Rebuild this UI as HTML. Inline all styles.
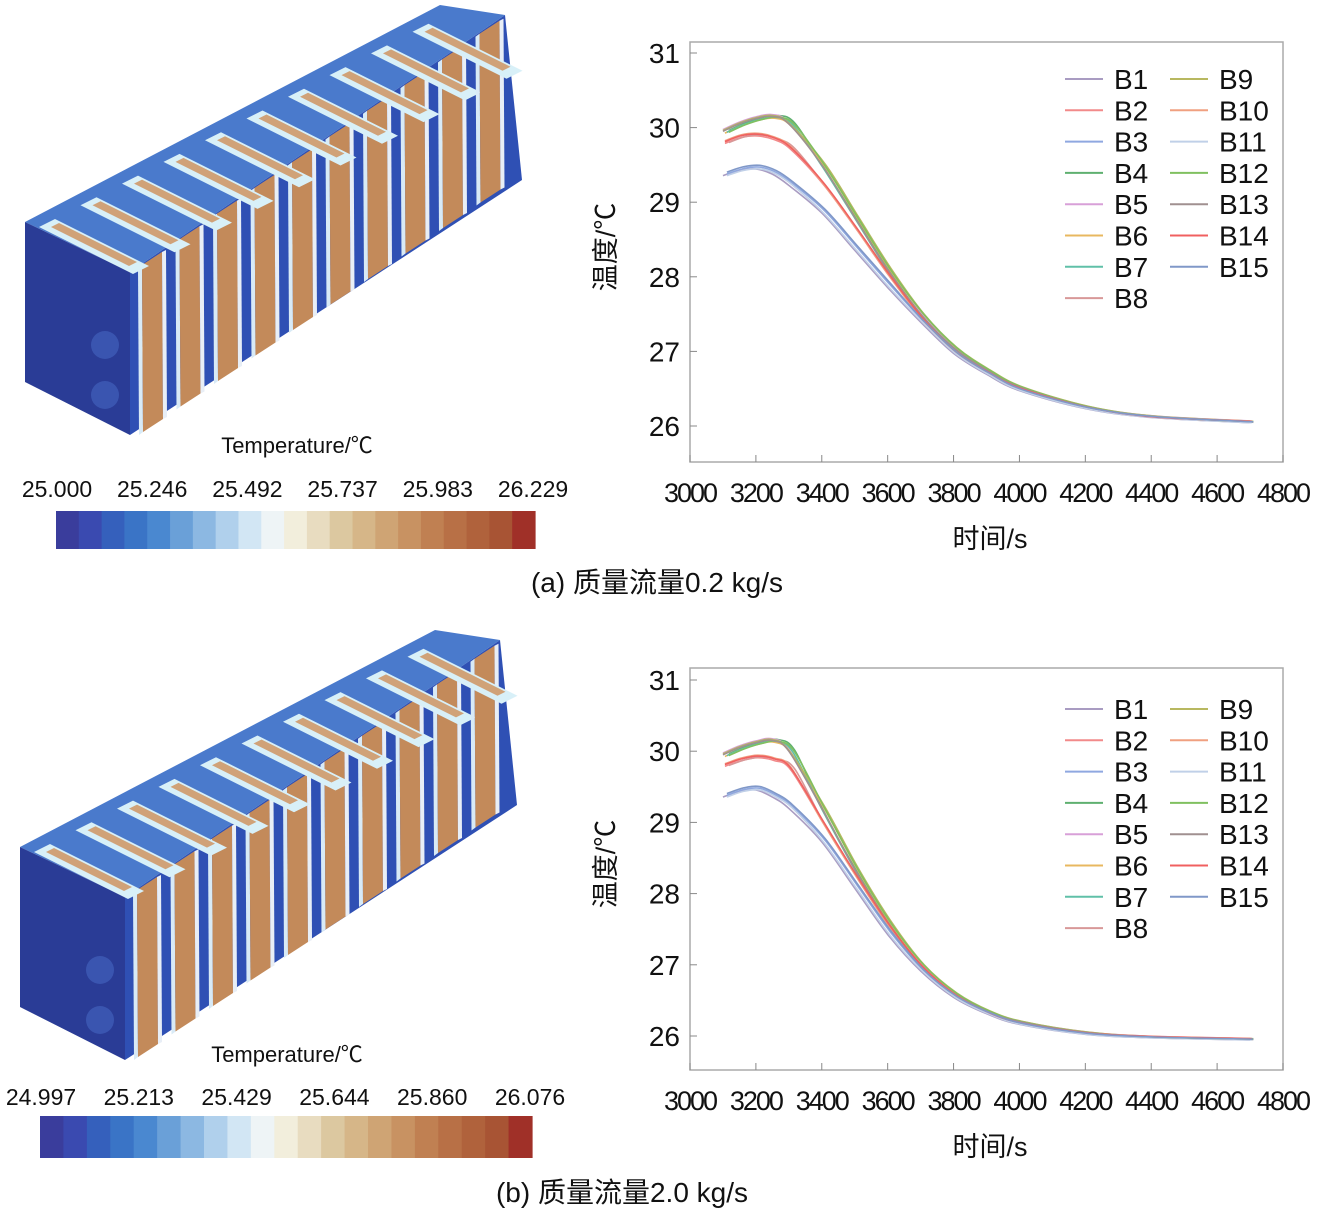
<!DOCTYPE html>
<html><head><meta charset="utf-8">
<style>
body{margin:0;background:#fff;width:1317px;height:1215px;overflow:hidden;font-family:"Liberation Sans","Noto Sans CJK SC",sans-serif;}
svg{position:absolute;left:0;top:0}
</style></head>
<body>
<svg id="s" width="1317" height="1215" viewBox="0 0 1317 1215" xmlns="http://www.w3.org/2000/svg"></svg>
<script>
const xs=[3100,3150,3200,3250,3300,3400,3500,3600,3700,3800,3900,4000,4200,4400,4700];
const topHigh=[29.95,30.05,30.12,30.15,30.05,29.5,28.8,28.1,27.5,27.05,26.75,26.52,26.26,26.13,26.06];
const topMid=[29.8,29.88,29.9,29.85,29.72,29.25,28.65,28.02,27.45,27.0,26.72,26.5,26.25,26.12,26.06];
const topLow=[29.38,29.45,29.47,29.4,29.25,28.88,28.38,27.88,27.4,26.98,26.7,26.48,26.24,26.12,26.05];
const botHigh=[29.95,30.05,30.12,30.15,30.0,29.2,28.35,27.6,27.0,26.6,26.35,26.2,26.05,25.99,25.96];
const botMid=[29.8,29.88,29.92,29.88,29.75,29.0,28.25,27.55,26.98,26.58,26.33,26.18,26.04,25.99,25.96];
const botLow=[29.38,29.46,29.48,29.38,29.22,28.75,28.1,27.45,26.92,26.55,26.32,26.17,26.03,25.98,25.95];
const names=["B1","B2","B3","B4","B5","B6","B7","B8","B9","B10","B11","B12","B13","B14","B15"];
const colors=["#a99cc2","#f28a8a","#8fa8e0","#5fb070","#d8a0d8","#e8b860","#60c0a8","#d89898","#b8b860","#f0a080","#c0d0e8","#80c060","#a09090","#f06060","#8098c8"];
const kinds=["L","M","L","H","H","H","H","M","H","M","L","H","H","M","L"];
const yTicks=[26,27,28,29,30,31];
const xTicks=[3000,3200,3400,3600,3800,4000,4200,4400,4600,4800];
const cbTop=["25.000","25.246","25.492","25.737","25.983","26.229"];
const cbBot=["24.997","25.213","25.429","25.644","25.860","26.076"];

const NS="http://www.w3.org/2000/svg";
const S=document.getElementById('s');
function el(t,a,p){const e=document.createElementNS(NS,t);for(const k in a)e.setAttribute(k,a[k]);(p||S).appendChild(e);return e;}
function txt(x,y,s,size,anchor,p){const e=el('text',{x:x,y:y,'font-size':size,'text-anchor':anchor||'middle','fill':'#111','font-family':'"Liberation Sans","Noto Sans CJK SC",sans-serif'},p);e.textContent=s;return e;}
function path(pts){let d="M"+pts[0][0]+","+pts[0][1];for(let i=0;i<pts.length-1;i++){const p0=pts[Math.max(0,i-1)],p1=pts[i],p2=pts[i+1],p3=pts[Math.min(pts.length-1,i+2)];d+=" C"+(p1[0]+(p2[0]-p0[0])/6)+","+(p1[1]+(p2[1]-p0[1])/6)+" "+(p2[0]-(p3[0]-p1[0])/6)+","+(p2[1]-(p3[1]-p1[1])/6)+" "+p2[0]+","+p2[1];}return d;}

function chart(c){
  const g=el('g',{});
  
  
  const X=v=>690+(v-3000)*593/1800, Y=v=>c.y26-(v-26)*c.unit;
  const frame=el('rect',{x:690,y:c.top,width:593,height:c.bot-c.top,fill:'none',stroke:'#aaa','stroke-width':1.5},g);
  
  yTicks.forEach(t=>{const e=txt(680,Y(t)+10,String(t),28,'end',g);el('line',{x1:690,x2:697,y1:Y(t),y2:Y(t),stroke:'#888'},g);});
  xTicks.forEach(t=>{const e=txt(X(t),c.bot+40,String(t),27,'middle',g);e.setAttribute('letter-spacing','-2');el('line',{x1:X(t),x2:X(t),y1:c.bot,y2:c.bot-7,stroke:'#888'},g);});
  const data={H:c.H,M:c.M,L:c.L};
  names.forEach((n,i)=>{const arr=data[kinds[i]];const off=(i%5-2)*0.012;
    const pts=xs.map((x,j)=>[X(x+(j<5?(i%4)*6:(i%3)*5)),Y(arr[j]+(j<8?off:off/4))]);
    const p=el('path',{d:path(pts),fill:'none',stroke:colors[i],'stroke-width':1.6},g);
    });
  names.forEach((n,i)=>{const col=i<8?0:1,row=i<8?i:i-8;const lx=col?1170:1065,ty=c.leg+row*31.3;
    const l=el('line',{x1:lx,x2:lx+38,y1:ty,y2:ty,stroke:colors[i],'stroke-width':2},g);
    
    const t=txt(lx+49,ty+10,n,28,'start',g);});
  const yt=txt(0,0,"温度/℃",27,'middle',g);yt.setAttribute('transform','translate(615,'+((c.top+c.bot)/2-5)+') rotate(-90)');
  
  const xt=txt(990,c.bot+86,"时间/s",27,'middle',g);
}
chart({name:'chart-a',top:42,bot:462,y26:426,unit:74.6,H:topHigh,M:topMid,L:topLow,leg:79});
chart({name:'chart-b',top:668,bot:1070,y26:1036,unit:71.2,H:botHigh,M:botMid,L:botLow,leg:709});

const cbCols=["#3a3d9c","#3a4ab0","#3560bc","#3a74c6","#4a88d0","#6aa0d8","#8cb8e2","#b0d0ec","#d2e6f4","#eef4f6","#f2eedc","#e8dcc0","#dcc8a0","#d6b688","#cfa474","#c89262","#c08052","#b87046","#b0623c","#a85434","#a03028"];
function colorbar(x,y,w,h,labels,ly,name,tx,ty){
  const g=el('g',{});
  const n=cbCols.length,sw=w/n;
  cbCols.forEach((c,i)=>el('rect',{x:x+i*sw,y:y,width:sw+0.6,height:h,fill:c},g));
  labels.forEach((l,i)=>{const e=txt(x+1+i*(w-3)/5,ly,l,23,'middle',g);});
  const t=txt(tx,ty,"Temperature/℃",22,'middle',g);
}
colorbar(56,511,479,38,cbTop,497,'colorbar-a',297,453);
colorbar(40,1116,492,42,cbBot,1105,'colorbar-b',287,1062);

function pack(name,ox,oy){
  const g=el('g',{transform:'translate('+ox+','+oy+')'});
  el('polygon',{points:'130,272 505,15 522,180 130,435',fill:'#2f50b4'},g);
  el('polygon',{points:'25,222 440,5 505,15 130,272',fill:'#4a7acc'},g);
  el('polygon',{points:'25,222 130,272 130,435 25,382',fill:'#2a3c96'},g);
  el('circle',{cx:105,cy:345,r:14,fill:'#3a55b0'},g);el('circle',{cx:105,cy:395,r:14,fill:'#3a55b0'},g);
  for(let i=0;i<10;i++){const t=i/10;
    const sx=130+375*t+8, syT=272-257*t-4, syB=435-255*t;
    el('polygon',{points:(sx)+','+(syT)+' '+(sx+4)+','+(syT-3)+' '+(sx+5)+','+(syB-3)+' '+(sx+1)+','+(syB)},g).setAttribute('fill','#d8eaf6');
    el('polygon',{points:(sx+4)+','+(syT-3)+' '+(sx+24)+','+(syT-16)+' '+(sx+25)+','+(syB-16)+' '+(sx+5)+','+(syB-3)},g).setAttribute('fill','#c38a5a');
    el('polygon',{points:(sx+24)+','+(syT-16)+' '+(sx+28)+','+(syT-18)+' '+(sx+29)+','+(syB-18)+' '+(sx+25)+','+(syB-16)},g).setAttribute('fill','#e8eef6');
    const tx=25+415*t+14, ty=222-217*t;
    el('polygon',{points:(tx)+','+(ty+5)+' '+(tx+16)+','+(ty-3)+' '+(tx+110)+','+(ty+44)+' '+(tx+94)+','+(ty+52)},g).setAttribute('fill','#d8f0f8');
    el('polygon',{points:(tx+12)+','+(ty+5)+' '+(tx+20)+','+(ty+1)+' '+(tx+98)+','+(ty+40)+' '+(tx+90)+','+(ty+44)},g).setAttribute('fill','#d0a278');
  }
}
pack('battery-pack-a',0,0);
pack('battery-pack-b',-5,625);

const ca=txt(657,592,"(a) 质量流量0.2 kg/s",28,'middle');
const cb=txt(622,1202,"(b) 质量流量2.0 kg/s",28,'middle');
</script>
</body></html>
